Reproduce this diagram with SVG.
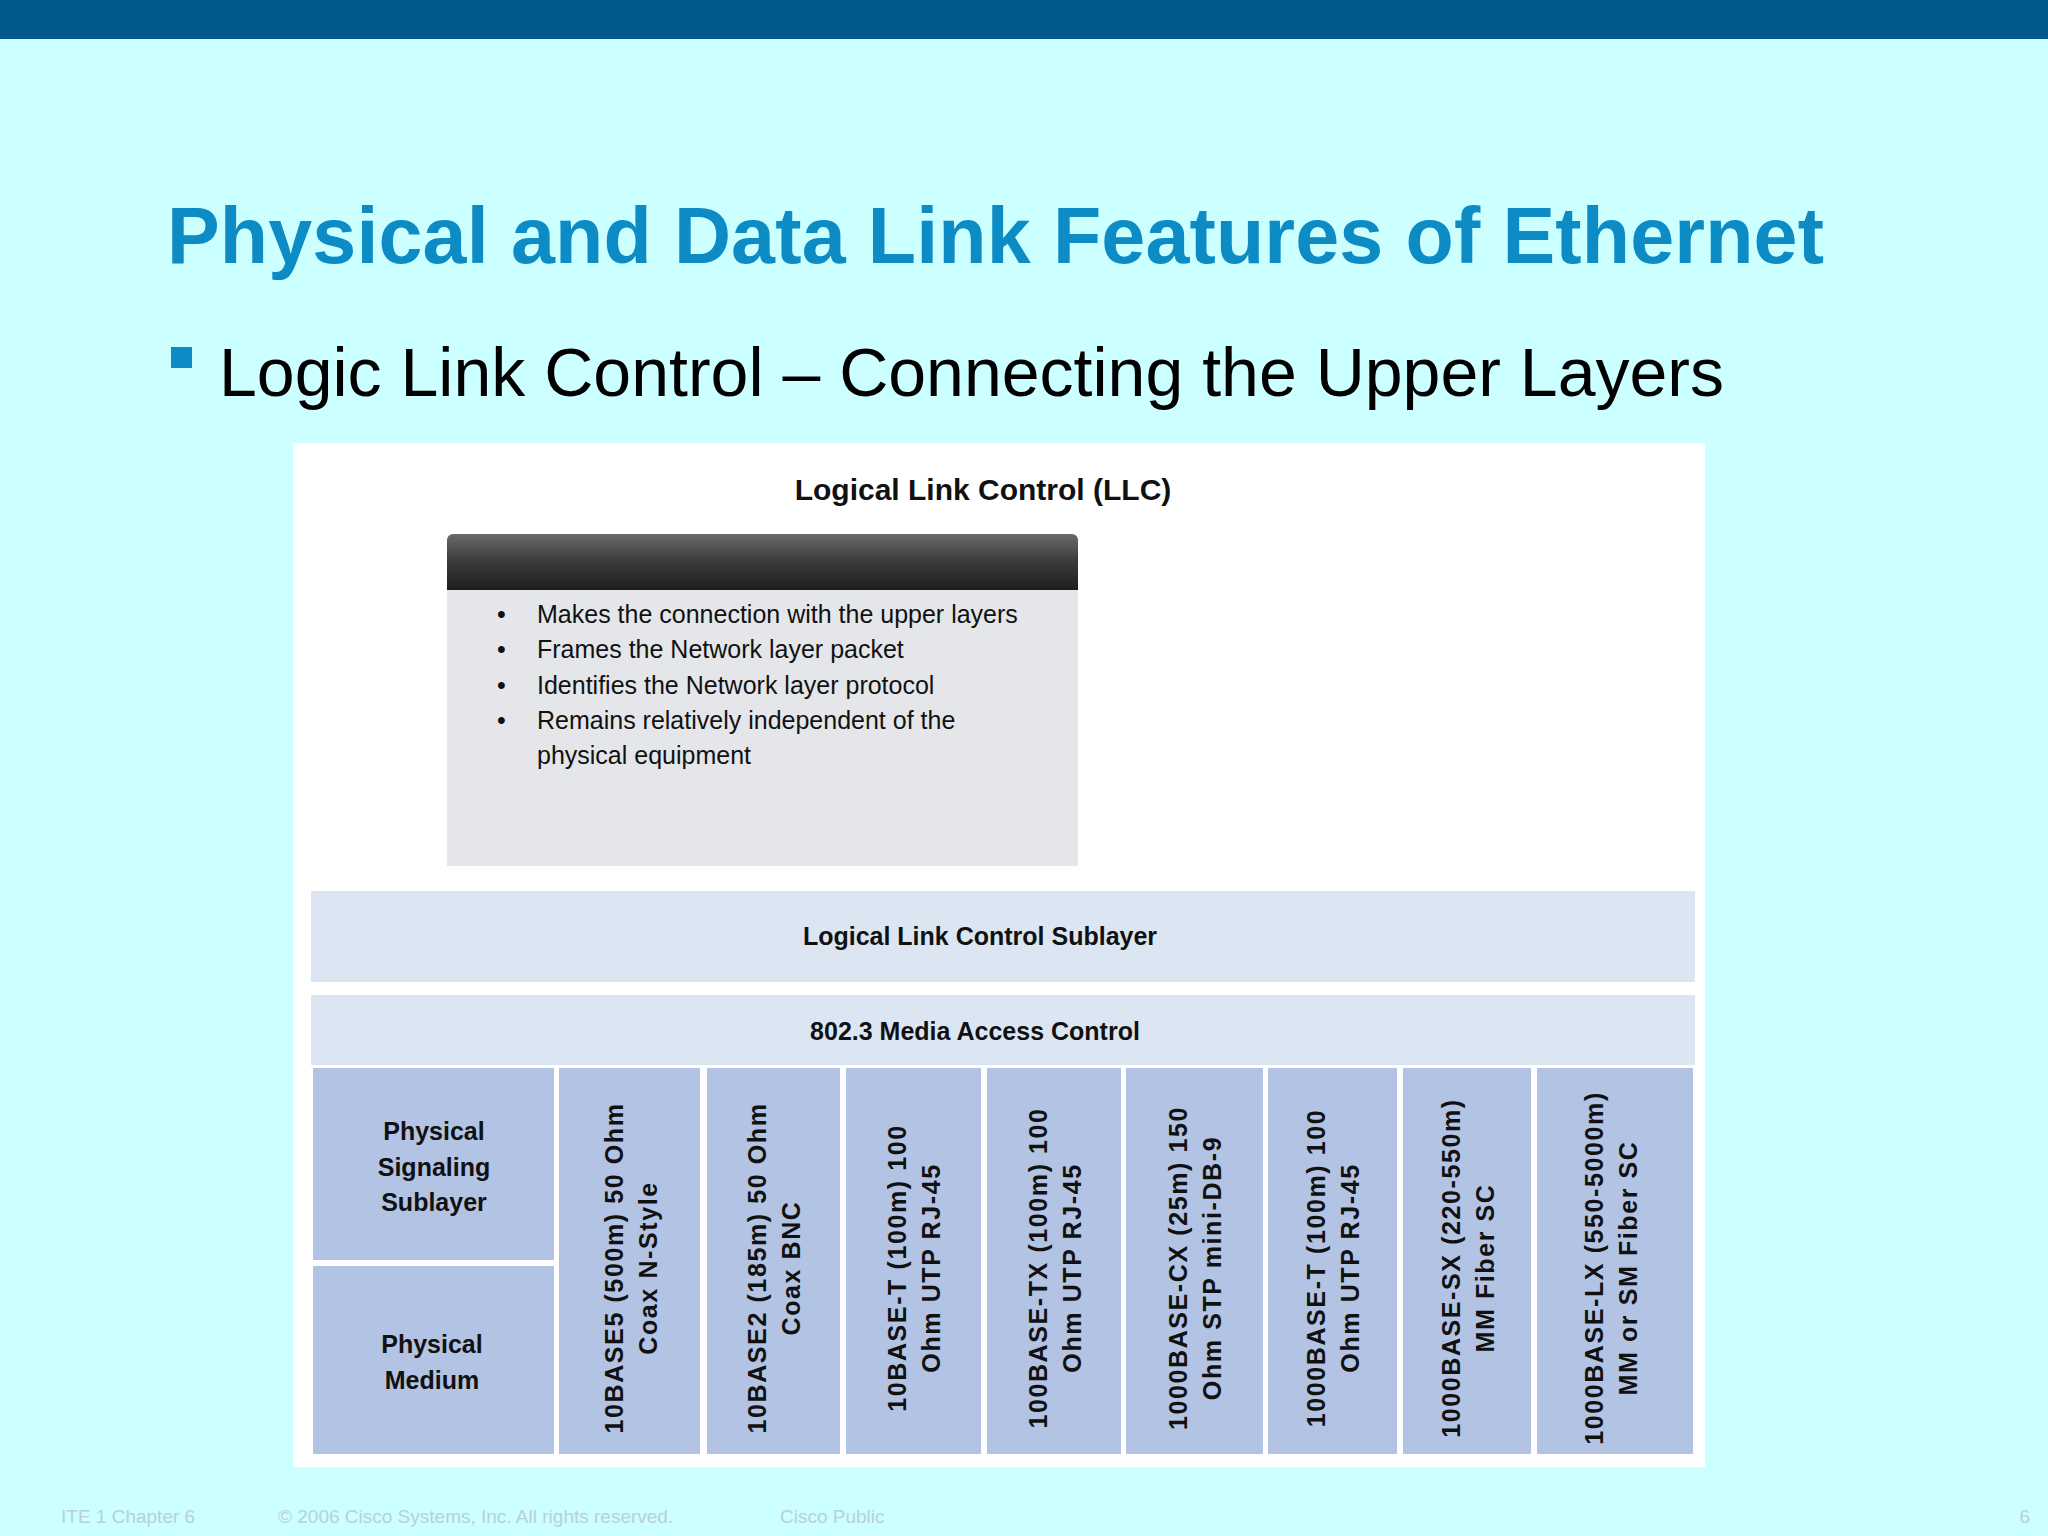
<svg xmlns="http://www.w3.org/2000/svg" width="2048" height="1536" viewBox="0 0 2048 1536">
<defs>
<linearGradient id="hd" x1="0" y1="0" x2="0" y2="1"><stop offset="0" stop-color="#6a6a6a"/><stop offset="0.5" stop-color="#3a3a3a"/><stop offset="1" stop-color="#1e1e1e"/></linearGradient>
</defs>
<style>
text{font-family:"Liberation Sans",Arial,sans-serif}
.b{font-weight:bold;fill:#111}
.col{fill:#b3c3e3}
.rt{font-weight:bold;font-size:25px;letter-spacing:1.6px;fill:#111;text-anchor:middle}
.bl{font-size:25px;fill:#111}
.ft{font-size:19px;fill:#b8d0d8}
</style>
<rect width="2048" height="1536" fill="#ccffff"/>
<rect width="2048" height="39" fill="#00598a"/>
<text x="167" y="263" font-size="79" font-weight="bold" fill="#0d8bc4" textLength="1657">Physical and Data Link Features of Ethernet</text>
<rect x="171" y="347" width="21" height="21" fill="#0d8bc4"/>
<text x="219" y="396" font-size="68" fill="#000" textLength="1505">Logic Link Control – Connecting the Upper Layers</text>
<rect x="293" y="443" width="1412" height="1024" fill="#fff"/>
<g id="llc-title"><text x="983" y="500" font-size="30" class="b" text-anchor="middle">Logical Link Control (LLC)</text></g>
<g id="llc-box">
<path d="M447 590V540a6 6 0 0 1 6-6H1072a6 6 0 0 1 6 6V590Z" fill="url(#hd)"/>
<rect x="447" y="590" width="631" height="276" fill="#e4e6ea"/>
<g class="bl">
<text x="497" y="623">•</text><text x="537" y="623">Makes the connection with the upper layers</text>
<text x="497" y="658">•</text><text x="537" y="658">Frames the Network layer packet</text>
<text x="497" y="694">•</text><text x="537" y="694">Identifies the Network layer protocol</text>
<text x="497" y="729">•</text><text x="537" y="729">Remains relatively independent of the</text>
<text x="537" y="764">physical equipment</text>
</g>
</g>
<g id="llc-sublayer"><rect x="311" y="891" width="1384" height="91" fill="#dce6f2"/><text x="980" y="945" font-size="25" class="b" text-anchor="middle">Logical Link Control Sublayer</text></g>
<g id="mac"><rect x="311" y="995" width="1384" height="70" fill="#dce6f2"/><text x="975" y="1040" font-size="25" class="b" text-anchor="middle">802.3 Media Access Control</text></g>
<g id="pss"><rect class="col" x="313" y="1068" width="241" height="192"/>
<text class="b" font-size="25" text-anchor="middle"><tspan x="434" y="1140">Physical</tspan><tspan x="434" y="1176">Signaling</tspan><tspan x="434" y="1211">Sublayer</tspan></text></g>
<g id="pm"><rect class="col" x="313" y="1266" width="241" height="188"/>
<text class="b" font-size="25" text-anchor="middle"><tspan x="432" y="1353">Physical</tspan><tspan x="432" y="1389">Medium</tspan></text></g>
<g id="c1"><rect class="col" x="559" y="1068" width="141" height="386"/><text class="rt" transform="translate(630 1268) rotate(-90)"><tspan x="0" y="-7">10BASE5 (500m) 50 Ohm</tspan><tspan x="0" y="27">Coax N-Style</tspan></text></g>
<g id="c2"><rect class="col" x="707" y="1068" width="133" height="386"/><text class="rt" transform="translate(773 1268) rotate(-90)"><tspan x="0" y="-7">10BASE2 (185m) 50 Ohm</tspan><tspan x="0" y="27">Coax BNC</tspan></text></g>
<g id="c3"><rect class="col" x="846" y="1068" width="135" height="386"/><text class="rt" transform="translate(913 1268) rotate(-90)"><tspan x="0" y="-7">10BASE-T (100m) 100</tspan><tspan x="0" y="27">Ohm UTP RJ-45</tspan></text></g>
<g id="c4"><rect class="col" x="987" y="1068" width="134" height="386"/><text class="rt" transform="translate(1054 1268) rotate(-90)"><tspan x="0" y="-7">100BASE-TX (100m) 100</tspan><tspan x="0" y="27">Ohm UTP RJ-45</tspan></text></g>
<g id="c5"><rect class="col" x="1126" y="1068" width="137" height="386"/><text class="rt" transform="translate(1194 1268) rotate(-90)"><tspan x="0" y="-7">1000BASE-CX (25m) 150</tspan><tspan x="0" y="27">Ohm STP mini-DB-9</tspan></text></g>
<g id="c6"><rect class="col" x="1268" y="1068" width="129" height="386"/><text class="rt" transform="translate(1332 1268) rotate(-90)"><tspan x="0" y="-7">1000BASE-T (100m) 100</tspan><tspan x="0" y="27">Ohm UTP RJ-45</tspan></text></g>
<g id="c7"><rect class="col" x="1403" y="1068" width="128" height="386"/><text class="rt" transform="translate(1467 1268) rotate(-90)"><tspan x="0" y="-7">1000BASE-SX (220-550m)</tspan><tspan x="0" y="27">MM Fiber SC</tspan></text></g>
<g id="c8"><rect class="col" x="1537" y="1068" width="156" height="386"/><text class="rt" transform="translate(1610 1268) rotate(-90)"><tspan x="0" y="-7">1000BASE-LX (550-5000m)</tspan><tspan x="0" y="27">MM or SM Fiber SC</tspan></text></g>
<g id="footer">
<text class="ft" x="61" y="1523">ITE 1 Chapter 6</text>
<text class="ft" x="278" y="1523">© 2006 Cisco Systems, Inc. All rights reserved.</text>
<text class="ft" x="780" y="1523">Cisco Public</text>
<text class="ft" x="2030" y="1523" font-size="24" text-anchor="end">6</text>
</g>
</svg>
